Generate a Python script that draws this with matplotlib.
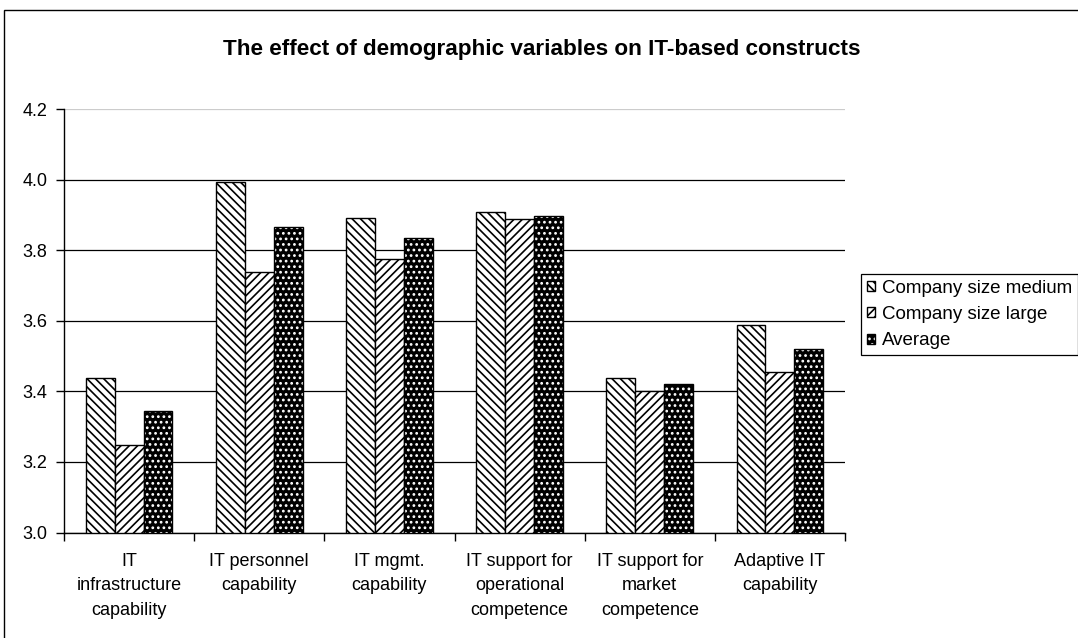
import numpy as np
import matplotlib
matplotlib.use("Agg")
import matplotlib.pyplot as plt
from matplotlib.patches import Patch, Rectangle
from matplotlib.legend_handler import HandlerTuple

plt.rcParams['font.family'] = ['Liberation Sans', 'DejaVu Sans']
plt.rcParams['hatch.linewidth'] = 1.2

categories = ["IT\ninfrastructure\ncapability", "IT personnel\ncapability",
              "IT mgmt.\ncapability", "IT support for\noperational\ncompetence",
              "IT support for\nmarket\ncompetence", "Adaptive IT\ncapability"]
medium = [3.437, 3.994, 3.890, 3.908, 3.437, 3.588]
large = [3.247, 3.738, 3.775, 3.888, 3.400, 3.455]
average = [3.344, 3.865, 3.834, 3.896, 3.420, 3.520]
series_names = ["Company size medium", "Company size large", "Average"]
yticks = [3.0, 3.2, 3.4, 3.6, 3.8, 4.0, 4.2]

W, H = 1078, 638
fig = plt.figure(figsize=(W / 100, H / 100), dpi=100)
ax = fig.add_axes([64 / W, 1 - 532.5 / H, (845 - 64) / W, (532.5 - 109) / H])

x = np.arange(len(categories))
bw = 1 / 4.5

ax.bar(x - bw, np.array(medium) - 3, bw, bottom=3, facecolor='white',
       edgecolor='black', hatch='\\\\\\\\', linewidth=1, zorder=3)
ax.bar(x, np.array(large) - 3, bw, bottom=3, facecolor='white',
       edgecolor='black', hatch='////', linewidth=1, zorder=3)
# dotted bars: white dots on black, then a black outline on top
ax.bar(x + bw, np.array(average) - 3, bw, bottom=3, facecolor='black',
       edgecolor='white', hatch='...', linewidth=0, zorder=3)
ax.bar(x + bw, np.array(average) - 3, bw, bottom=3, fill=False,
       edgecolor='black', linewidth=1, zorder=4)

ax.set_ylim(3.0, 4.2)
ax.set_xlim(-0.5, len(categories) - 0.5)
ax.set_yticks(yticks)
ax.set_yticklabels([f"{v:.1f}" for v in yticks], fontsize=13)
ax.set_xticks(np.arange(len(categories) + 1) - 0.5)
ax.set_xticklabels([])
ax.set_xticks(x, minor=True)
ax.set_xticklabels(categories, minor=True, fontsize=13, linespacing=1.58)
ax.tick_params(axis='x', which='minor', length=0, pad=14.5)
ax.tick_params(axis='x', which='major', length=6, width=1, direction='out')
ax.tick_params(axis='y', length=6, width=1, direction='out', pad=6)

ax.yaxis.grid(True, color='black', linewidth=0.9, zorder=0)
ax.set_axisbelow(True)
ax.yaxis.get_gridlines()[-1].set_color('#cccccc')
for s in ['top', 'right']:
    ax.spines[s].set_visible(False)
ax.spines['left'].set_linewidth(1)
ax.spines['bottom'].set_linewidth(1)

fig.text(0.503, 1 - 50 / H, "The effect of demographic variables on IT-based constructs",
         ha='center', va='center', fontsize=16.2, fontweight='bold')

handles = [
    Patch(facecolor='white', edgecolor='black', hatch='\\\\\\\\', linewidth=1),
    Patch(facecolor='white', edgecolor='black', hatch='////', linewidth=1),
    (Patch(facecolor='black', edgecolor='white', hatch='...', linewidth=0),
     Patch(fill=False, edgecolor='black', linewidth=1)),
]
leg = fig.legend(handles, series_names, loc='center left',
                 bbox_to_anchor=(861 / W, 1 - 314.5 / H), borderaxespad=0,
                 fontsize=13.5, fancybox=False, edgecolor='black',
                 handlelength=0.45, handleheight=0.45, handletextpad=0.35,
                 labelspacing=0.5, borderpad=0.3,
                 handler_map={tuple: HandlerTuple(ndivide=1)})
leg.get_frame().set_linewidth(0.9)
leg.get_frame().set_alpha(1)

# outer chart border (runs off the right and bottom edges)
fig.add_artist(Rectangle((4 / W, -0.5), 2, 1.5 - 10 / H, transform=fig.transFigure,
                         fill=False, edgecolor='black', linewidth=1))

fig.savefig("out.png", dpi=100)
